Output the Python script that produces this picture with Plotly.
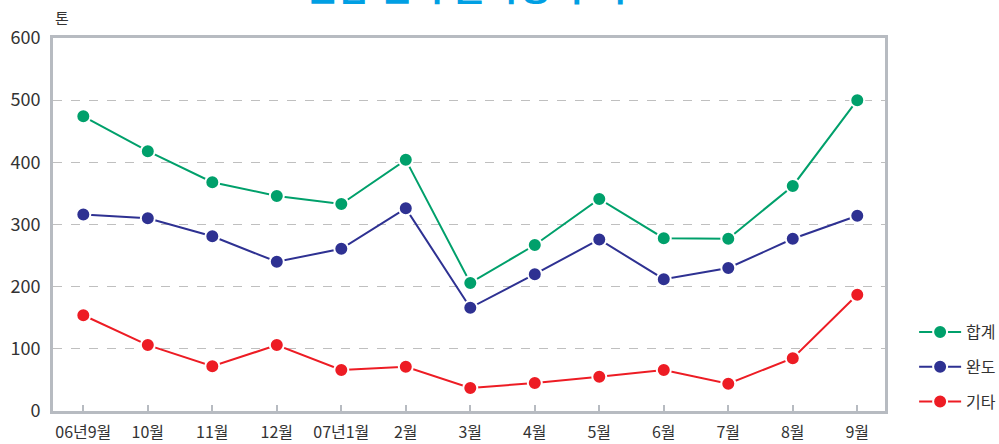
import plotly.graph_objects as go

months = ["06년9월", "10월", "11월", "12월", "07년1월", "2월", "3월", "4월", "5월", "6월", "7월", "8월", "9월"]
total = [474, 418, 368, 346, 333, 404, 206, 267, 341, 278, 277, 362, 500]
wando = [316, 310, 281, 240, 261, 326, 166, 220, 276, 212, 230, 277, 314]
others = [154, 106, 72, 106, 66, 71, 37, 45, 55, 66, 44, 85, 187]

series = [("합계", total, "#00A06B"), ("완도", wando, "#2E3192"), ("기타", others, "#ED1C24")]

FONT = "Noto Sans CJK KR"
x_idx = list(range(len(months)))

fig = go.Figure()
for i, (name, vals, col) in enumerate(series):
    fig.add_trace(go.Scatter(
        x=x_idx, y=vals, name=name, mode="lines+markers",
        line=dict(color=col, width=2),
        marker=dict(color=col, size=14, line=dict(color="white", width=2)),
        legendgroup=f"g{i}",
    ))

fig.update_layout(
    width=999, height=444,
    margin=dict(l=53, r=114, t=38, b=33, autoexpand=False),
    paper_bgcolor="white", plot_bgcolor="white",
    font=dict(family=FONT, color="#333333", size=16),
    showlegend=True,
    legend=dict(x=1.035, y=0.118, xanchor="left", yanchor="middle",
                font=dict(size=16, color="#333333", family=FONT),
                tracegroupgap=11, itemwidth=42, bgcolor="rgba(0,0,0,0)"),
    xaxis=dict(
        range=[-0.47, 12.43], tickvals=x_idx, ticktext=months, automargin=False,
        showgrid=False, zeroline=False,
        showline=True, linecolor="#B7BBC1", linewidth=3, mirror=True,
        ticks="inside", ticklen=6, tickcolor="#B7BBC1", tickwidth=1.5,
        tickfont=dict(size=16, family=FONT, color="#333333"),
        ticklabelstandoff=5,
    ),
    yaxis=dict(
        range=[0, 600], tickvals=[0, 100, 200, 300, 400, 500, 600], automargin=False,
        showgrid=True, gridcolor="#BFBFBF", griddash="dash", gridwidth=1,
        zeroline=False,
        showline=True, linecolor="#B7BBC1", linewidth=3, mirror=True,
        ticks="", tickfont=dict(size=18, family=FONT, color="#333333"),
        ticklabelstandoff=6,
    ),
    annotations=[
        dict(text="톤", xref="paper", yref="paper", x=(62 - 53) / 832, y=(411 - 18) / 373,
             showarrow=False, xanchor="center", yanchor="middle",
             font=dict(size=15, color="#333333", family=FONT)),
        dict(text="<b>전남 전복 출하량 추이</b>", xref="paper", yref="paper",
             x=(465 - 53) / 832, y=(411 - 13) / 373,
             showarrow=False, xanchor="center", yanchor="bottom",
             font=dict(size=36, color="#009FE3", family=FONT)),
    ],
)

fig.write_html("out.html", config={"displayModeBar": False},
               post_script="document.body.style.margin='0';document.body.style.overflow='hidden';")
